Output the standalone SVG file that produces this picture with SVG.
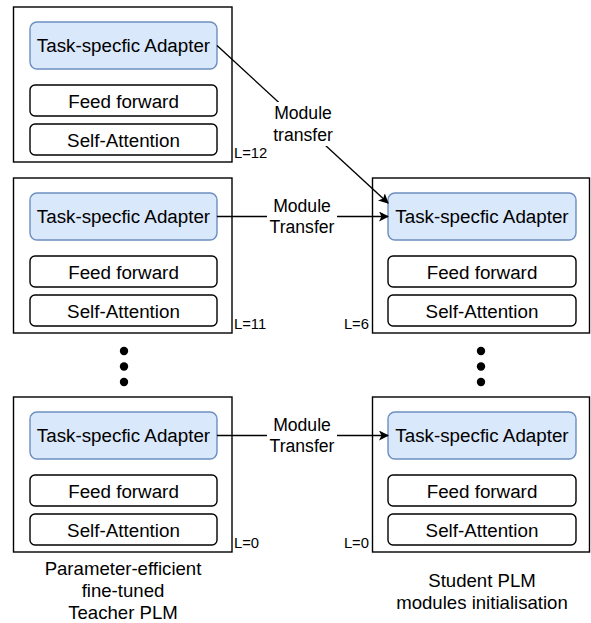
<svg xmlns="http://www.w3.org/2000/svg" width="591" height="623" viewBox="0 0 591 623">
<defs>
<style>
.outer{fill:#fff;stroke:#000;stroke-width:1.4}
.ad{fill:#dae8fc;stroke:#6c8ebf;stroke-width:1.4}
.blk{fill:#fff;stroke:#000;stroke-width:1.4}
.t{font-family:"Liberation Sans",Arial,sans-serif;font-size:18.8px;text-anchor:middle;fill:#000}
.lab{font-family:"Liberation Sans",Arial,sans-serif;font-size:17.6px;text-anchor:middle;fill:#000}
.l{font-family:"Liberation Sans",Arial,sans-serif;font-size:14.8px;fill:#000}
.cap{font-family:"Liberation Sans",Arial,sans-serif;font-size:18.6px;text-anchor:middle;fill:#000}
.edge{fill:none;stroke:#000;stroke-width:1.4}
</style>
<marker id="arr" viewBox="0 0 10 10" refX="9" refY="5" markerWidth="10" markerHeight="10" markerUnits="userSpaceOnUse" orient="auto">
<path d="M0,0 L10,5 L0,10 L2.5,5 Z" fill="#000"/>
</marker>
</defs>
<rect width="591" height="623" fill="#fff"/>

<g id="teacher-l12">
<rect class="outer" x="13.5" y="7" width="218.5" height="155"/>
<rect class="ad" x="30" y="22" width="187" height="47" rx="7"/>
<text class="t" x="123.5" y="52">Task-specfic Adapter</text>
<rect class="blk" x="30" y="85" width="187" height="31" rx="5"/>
<text class="t" x="123.5" y="107.5">Feed forward</text>
<rect class="blk" x="30" y="124" width="187" height="31" rx="5"/>
<text class="t" x="123.5" y="146.5">Self-Attention</text>
<text class="l" x="234" y="158">L=12</text>
</g>

<g id="teacher-l11">
<rect class="outer" x="13.5" y="178" width="218.5" height="155"/>
<rect class="ad" x="30" y="193" width="187" height="47" rx="7"/>
<text class="t" x="123.5" y="223">Task-specfic Adapter</text>
<rect class="blk" x="30" y="256" width="187" height="31" rx="5"/>
<text class="t" x="123.5" y="278.5">Feed forward</text>
<rect class="blk" x="30" y="295" width="187" height="31" rx="5"/>
<text class="t" x="123.5" y="317.5">Self-Attention</text>
<text class="l" x="234" y="329">L=11</text>
</g>

<g id="teacher-l0">
<rect class="outer" x="13.5" y="397" width="218.5" height="155"/>
<rect class="ad" x="30" y="412" width="187" height="47" rx="7"/>
<text class="t" x="123.5" y="442">Task-specfic Adapter</text>
<rect class="blk" x="30" y="475" width="187" height="31" rx="5"/>
<text class="t" x="123.5" y="497.5">Feed forward</text>
<rect class="blk" x="30" y="514" width="187" height="31" rx="5"/>
<text class="t" x="123.5" y="536.5">Self-Attention</text>
<text class="l" x="234" y="548">L=0</text>
</g>

<g id="student-l6">
<rect class="outer" x="372.5" y="178" width="217" height="155"/>
<rect class="ad" x="388" y="193" width="188" height="47" rx="7"/>
<text class="t" x="482" y="223">Task-specfic Adapter</text>
<rect class="blk" x="388" y="256" width="188" height="31" rx="5"/>
<text class="t" x="482" y="278.5">Feed forward</text>
<rect class="blk" x="388" y="295" width="188" height="31" rx="5"/>
<text class="t" x="482" y="317.5">Self-Attention</text>
<text class="l" x="369" y="329" text-anchor="end">L=6</text>
</g>

<g id="student-l0">
<rect class="outer" x="372.5" y="397" width="217" height="155"/>
<rect class="ad" x="388" y="412" width="188" height="47" rx="7"/>
<text class="t" x="482" y="442">Task-specfic Adapter</text>
<rect class="blk" x="388" y="475" width="188" height="31" rx="5"/>
<text class="t" x="482" y="497.5">Feed forward</text>
<rect class="blk" x="388" y="514" width="188" height="31" rx="5"/>
<text class="t" x="482" y="536.5">Self-Attention</text>
<text class="l" x="369" y="548" text-anchor="end">L=0</text>
</g>

<g id="teacher-dots">
<circle cx="124" cy="351" r="4.2" fill="#000"/>
<circle cx="124" cy="366.5" r="4.2" fill="#000"/>
<circle cx="124" cy="382" r="4.2" fill="#000"/>
</g>
<g id="student-dots">
<circle cx="481" cy="351" r="4.2" fill="#000"/>
<circle cx="481" cy="366.5" r="4.2" fill="#000"/>
<circle cx="481" cy="382" r="4.2" fill="#000"/>
</g>

<g id="teacher-caption">
<text class="cap" x="123" y="575">Parameter-efficient</text>
<text class="cap" x="123" y="597">fine-tuned</text>
<text class="cap" x="123" y="619">Teacher PLM</text>
</g>
<g id="student-caption">
<text class="cap" x="482" y="587">Student PLM</text>
<text class="cap" x="482" y="609">modules initialisation</text>
</g>

<g id="connectors">
<path class="edge" d="M217,45.5 L388,203" marker-end="url(#arr)"/>
<rect x="271" y="102" width="64" height="44" fill="#fff"/>
<text class="lab" x="303" y="119">Module</text>
<text class="lab" x="303" y="141">transfer</text>

<path class="edge" d="M217,216.5 L388,216.5" marker-end="url(#arr)"/>
<rect x="267" y="197" width="70" height="40" fill="#fff"/>
<text class="lab" x="302" y="212">Module</text>
<text class="lab" x="302" y="233">Transfer</text>

<path class="edge" d="M217,435.5 L388,435.5" marker-end="url(#arr)"/>
<rect x="267" y="416" width="70" height="40" fill="#fff"/>
<text class="lab" x="302" y="431">Module</text>
<text class="lab" x="302" y="452">Transfer</text>
</g>
</svg>
